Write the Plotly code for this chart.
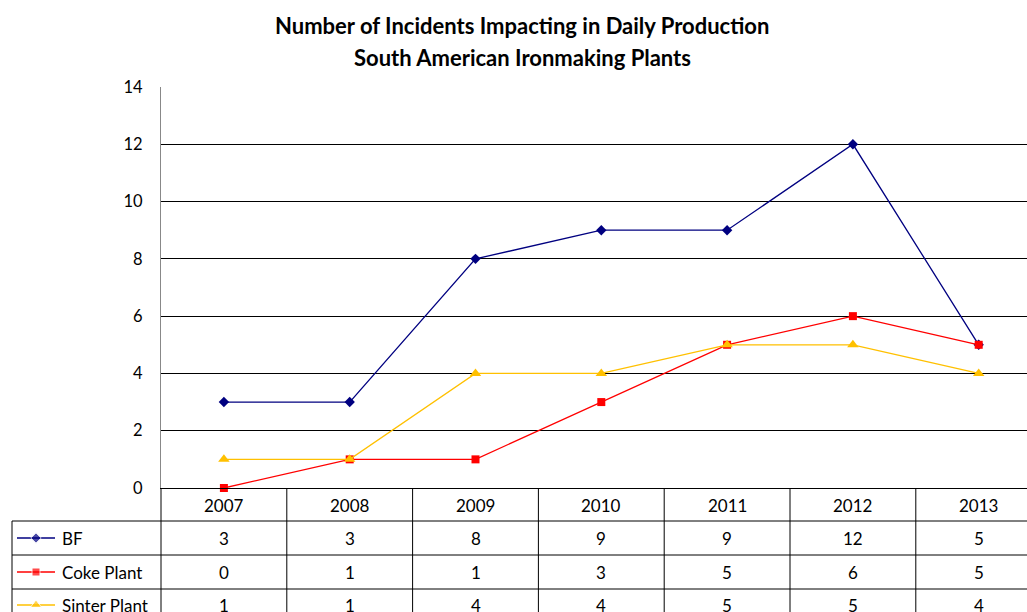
import plotly.graph_objects as go

years = ["2007", "2008", "2009", "2010", "2011", "2012", "2013"]
bf = [3, 3, 8, 9, 9, 12, 5]
coke = [0, 1, 1, 3, 5, 6, 5]
sinter = [1, 1, 4, 4, 5, 5, 4]
series_names = ["BF", "Coke Plant", "Sinter Plant"]
series_vals = [bf, coke, sinter]
colors = ["#000080", "#FF0000", "#FFC000"]
symbols = ["diamond", "square", "triangle-up"]
msizes = [8, 8, 10]

W, H = 1027, 612
FONT = "Lato"

def px(x):
    return x / W

def py(y):
    return 1 - y / H

fig = go.Figure()
xi = list(range(len(years)))
for name, vals, c, s, ms in zip(series_names, series_vals, colors, symbols, msizes):
    fig.add_trace(go.Scatter(
        x=xi, y=vals, name=name, mode="lines+markers",
        line=dict(color=c, width=1.3),
        marker=dict(symbol=s, size=ms, color=c),
        cliponaxis=False, showlegend=False,
    ))

row_y = [538, 572, 605]
for i, (c, s, ms) in enumerate(zip(colors, symbols, msizes)):
    fig.add_trace(go.Scatter(
        x=[17, 36, 55], y=[row_y[i]] * 3, mode="lines+markers",
        line=dict(color=c, width=1.3),
        marker=dict(symbol=s, size=[0, ms, 0], color=c),
        xaxis="x2", yaxis="y2", showlegend=False, hoverinfo="skip",
        cliponaxis=False,
    ))

x_left = 161
step = 125.8
x_hi = -0.5 + (W - x_left) / step

fig.update_layout(
    width=W, height=H, autosize=False,
    margin=dict(l=0, r=0, t=0, b=0, pad=0),
    paper_bgcolor="white", plot_bgcolor="rgba(0,0,0,0)",
    font=dict(family=FONT, size=16, color="#000"),
    xaxis=dict(domain=[px(x_left), 1], range=[-0.5, x_hi], showgrid=False,
               showticklabels=False, ticks="", zeroline=False, automargin=False,
               showline=True, linecolor="#000", linewidth=1),
    yaxis=dict(domain=[py(488), py(87)], range=[0, 14], dtick=2,
               showgrid=True, gridcolor="#000", gridwidth=1, automargin=False,
               zeroline=False, showline=True, linecolor="#888", linewidth=1,
               ticks="", ticklabelstandoff=14,
               tickfont=dict(family=FONT, size=16.5)),
    xaxis2=dict(domain=[0, 1], range=[0, W], visible=False, anchor="y2"),
    yaxis2=dict(domain=[0, 1], range=[H, 0], visible=False, anchor="x2"),
)

shapes = []
line = dict(color="#000", width=1)
for y in [521, 555, 589]:
    shapes.append(dict(type="line", xref="paper", yref="paper",
                       x0=px(12), x1=1, y0=py(y), y1=py(y), line=line))
shapes.append(dict(type="line", xref="paper", yref="paper",
                   x0=px(12), x1=px(12), y0=py(521), y1=0, line=line))
shapes.append(dict(type="line", xref="paper", yref="paper",
                   x0=px(x_left), x1=px(x_left), y0=py(488), y1=0, line=line))
for i in range(len(years) - 1):
    shapes.append(dict(type="line", xref="x", yref="paper",
                       x0=i + 0.5, x1=i + 0.5, y0=py(488), y1=0, line=line))
fig.update_layout(shapes=shapes)

ann = []
for i, yr in enumerate(years):
    ann.append(dict(x=i, y=py(505), xref="x", yref="paper", text=yr,
                    yanchor="middle", showarrow=False, font=dict(size=17)))
for r, (name, vals) in enumerate(zip(series_names, series_vals)):
    for i, v in enumerate(vals):
        ann.append(dict(x=i, y=py(row_y[r]), xref="x", yref="paper", text=str(v),
                        yanchor="middle", showarrow=False, font=dict(size=17)))
    ann.append(dict(x=px(60), y=py(row_y[r]), xref="paper", yref="paper",
                    text=name, showarrow=False, xanchor="left", yanchor="middle",
                    font=dict(size=17)))
ann.append(dict(x=px(522), y=py(26), xref="paper", yref="paper",
                text="<b>Number of Incidents Impacting in Daily Production</b>",
                xanchor="center", yanchor="middle",
                showarrow=False, font=dict(size=22)))
ann.append(dict(x=px(522), y=py(57), xref="paper", yref="paper",
                text="<b>South American Ironmaking Plants</b>",
                xanchor="center", yanchor="middle",
                showarrow=False, font=dict(size=22)))
fig.update_layout(annotations=ann)

fig.write_html("out.html", config={"displayModeBar": False},
               post_script="document.body.style.margin='0';document.body.style.overflow='hidden';")
